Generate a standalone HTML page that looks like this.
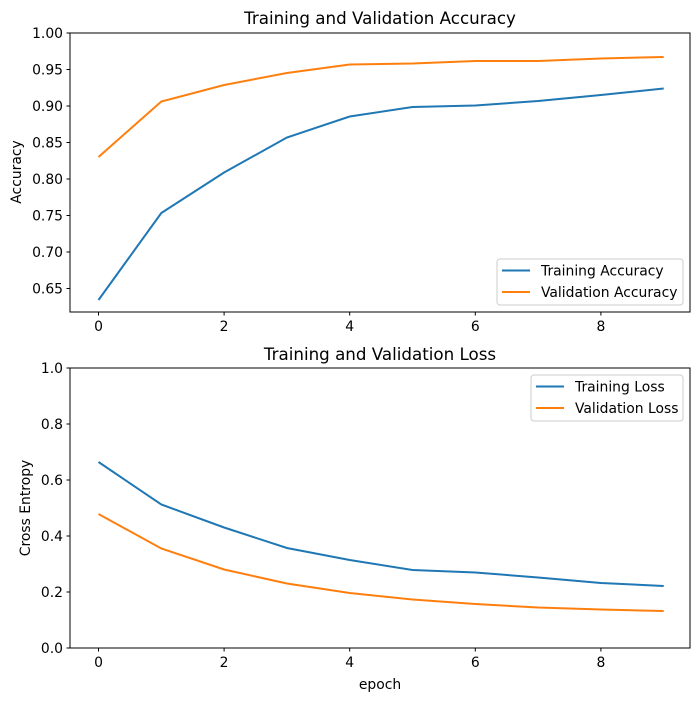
<!DOCTYPE html>
<html><head><style>body{margin:0;background:#fff}svg{display:block}text{font-family:"DejaVu Sans","Liberation Sans",sans-serif;fill:#000}</style></head>
<body>
<svg width="700" height="701" viewBox="0 0 700 701" xmlns="http://www.w3.org/2000/svg">
<rect width="700" height="701" fill="#fff"/>
<!-- Top plot -->
<text x="380" y="24" font-size="16.7" text-anchor="middle">Training and Validation Accuracy</text>
<g stroke="#000" stroke-width="1">
<line x1="70" y1="33" x2="66.5" y2="33"/><line x1="70" y1="69.5" x2="66.5" y2="69.5"/><line x1="70" y1="106" x2="66.5" y2="106"/><line x1="70" y1="142.5" x2="66.5" y2="142.5"/><line x1="70" y1="179" x2="66.5" y2="179"/><line x1="70" y1="215.5" x2="66.5" y2="215.5"/><line x1="70" y1="252" x2="66.5" y2="252"/><line x1="70" y1="288.5" x2="66.5" y2="288.5"/>
<line x1="98.5" y1="312" x2="98.5" y2="315.5"/><line x1="224.1" y1="312" x2="224.1" y2="315.5"/><line x1="349.7" y1="312" x2="349.7" y2="315.5"/><line x1="475.3" y1="312" x2="475.3" y2="315.5"/><line x1="600.9" y1="312" x2="600.9" y2="315.5"/>
</g>
<g font-size="13.9" text-anchor="end">
<text x="63" y="38">1.00</text><text x="63" y="74.5">0.95</text><text x="63" y="111">0.90</text><text x="63" y="147.5">0.85</text><text x="63" y="184">0.80</text><text x="63" y="220.5">0.75</text><text x="63" y="257">0.70</text><text x="63" y="293.5">0.65</text>
</g>
<g font-size="13.9" text-anchor="middle">
<text x="98.5" y="331">0</text><text x="224.1" y="331">2</text><text x="349.7" y="331">4</text><text x="475.3" y="331">6</text><text x="600.9" y="331">8</text>
</g>
<text transform="translate(21,172) rotate(-90)" font-size="13.9" text-anchor="middle">Accuracy</text>
<polyline fill="none" stroke="#1f77b4" stroke-width="2" points="98.5,300 161.3,213 224.1,172.5 286.9,137.5 349.7,116.5 412.5,107 475.3,105.5 538.1,101 600.9,95 663.7,88.5"/>
<polyline fill="none" stroke="#ff7f0e" stroke-width="2" points="98.5,157 161.3,101.5 224.1,85 286.9,73 349.7,64.5 412.5,63.5 475.3,61 538.1,61 600.9,58.5 663.7,57"/>
<rect x="70" y="33" width="620" height="279" fill="none" stroke="#000" stroke-width="1"/>
<rect x="497" y="259" width="186" height="46" rx="3" fill="#fff" fill-opacity="0.8" stroke="#ccc"/>
<line x1="502" y1="270.5" x2="530" y2="270.5" stroke="#1f77b4" stroke-width="2"/>
<line x1="502" y1="292" x2="530" y2="292" stroke="#ff7f0e" stroke-width="2"/>
<text x="541" y="275.5" font-size="13.9">Training Accuracy</text>
<text x="541" y="297" font-size="13.9">Validation Accuracy</text>
<!-- Bottom plot -->
<text x="380" y="360" font-size="16.7" text-anchor="middle">Training and Validation Loss</text>
<g stroke="#000" stroke-width="1">
<line x1="70" y1="368" x2="66.5" y2="368"/><line x1="70" y1="424" x2="66.5" y2="424"/><line x1="70" y1="480" x2="66.5" y2="480"/><line x1="70" y1="536" x2="66.5" y2="536"/><line x1="70" y1="592" x2="66.5" y2="592"/><line x1="70" y1="648" x2="66.5" y2="648"/>
<line x1="98.5" y1="648" x2="98.5" y2="651.5"/><line x1="224.1" y1="648" x2="224.1" y2="651.5"/><line x1="349.7" y1="648" x2="349.7" y2="651.5"/><line x1="475.3" y1="648" x2="475.3" y2="651.5"/><line x1="600.9" y1="648" x2="600.9" y2="651.5"/>
</g>
<g font-size="13.9" text-anchor="end">
<text x="63" y="373">1.0</text><text x="63" y="429">0.8</text><text x="63" y="485">0.6</text><text x="63" y="541">0.4</text><text x="63" y="597">0.2</text><text x="63" y="653">0.0</text>
</g>
<g font-size="13.9" text-anchor="middle">
<text x="98.5" y="667">0</text><text x="224.1" y="667">2</text><text x="349.7" y="667">4</text><text x="475.3" y="667">6</text><text x="600.9" y="667">8</text>
</g>
<text x="380" y="689" font-size="13.9" text-anchor="middle">epoch</text>
<text transform="translate(30,508) rotate(-90)" font-size="13.9" text-anchor="middle">Cross Entropy</text>
<polyline fill="none" stroke="#1f77b4" stroke-width="2" points="98.5,462 161.3,504.5 224.1,527.5 286.9,548 349.7,560 412.5,570 475.3,572.5 538.1,577.5 600.9,583 663.7,586"/>
<polyline fill="none" stroke="#ff7f0e" stroke-width="2" points="98.5,514 161.3,548.5 224.1,569.5 286.9,583.5 349.7,593 412.5,599.5 475.3,604 538.1,607.5 600.9,609.5 663.7,611"/>
<rect x="70" y="368" width="620" height="280" fill="none" stroke="#000" stroke-width="1"/>
<rect x="531" y="375" width="152" height="46" rx="3" fill="#fff" fill-opacity="0.8" stroke="#ccc"/>
<line x1="536" y1="386.5" x2="564" y2="386.5" stroke="#1f77b4" stroke-width="2"/>
<line x1="536" y1="408" x2="564" y2="408" stroke="#ff7f0e" stroke-width="2"/>
<text x="575" y="391.5" font-size="13.9">Training Loss</text>
<text x="575" y="413" font-size="13.9">Validation Loss</text>
</svg>
</body></html>
